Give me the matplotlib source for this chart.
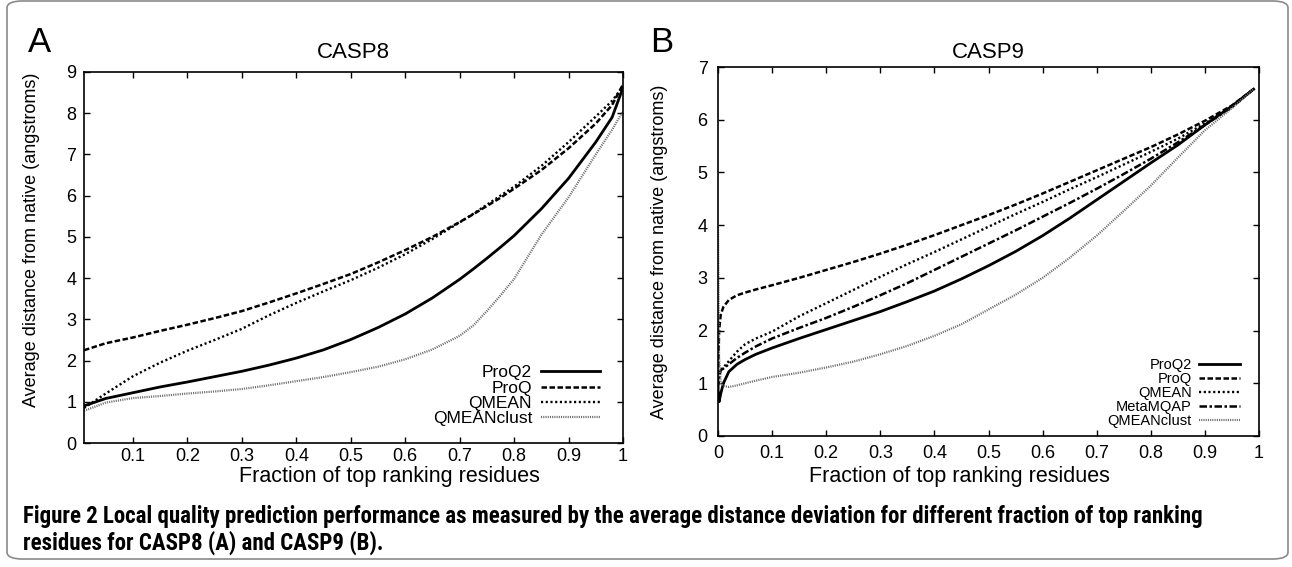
import matplotlib
matplotlib.use("Agg")
import matplotlib.pyplot as plt
from matplotlib import font_manager as fm
from matplotlib.patches import FancyBboxPatch

# ---------------- data ----------------
x_casp8 = [0.01, 0.05, 0.1, 0.15, 0.2, 0.25, 0.3, 0.35, 0.4, 0.45, 0.5, 0.55,
           0.6, 0.65, 0.7, 0.725, 0.75, 0.775, 0.8, 0.85, 0.9, 0.95, 0.98, 1.0]
proq2_8 = [0.9, 1.08, 1.22, 1.36, 1.48, 1.61, 1.74, 1.89, 2.06, 2.26, 2.51, 2.8,
           3.13, 3.52, 3.97, 4.22, 4.48, 4.75, 5.03, 5.68, 6.42, 7.3, 7.9, 8.62]
proq_8 = [2.25, 2.42, 2.56, 2.72, 2.87, 3.03, 3.2, 3.41, 3.63, 3.86, 4.1, 4.38,
          4.68, 5.0, 5.36, 5.55, 5.75, 5.95, 6.17, 6.62, 7.15, 7.75, 8.2, 8.7]
qmean_8 = [0.85, 1.2, 1.62, 1.95, 2.24, 2.5, 2.77, 3.1, 3.4, 3.68, 3.95, 4.25,
           4.58, 4.95, 5.35, 5.56, 5.78, 6.0, 6.22, 6.72, 7.3, 7.92, 8.3, 8.65]
qmeanclust_8 = [0.78, 0.98, 1.09, 1.14, 1.2, 1.25, 1.31, 1.4, 1.5, 1.6, 1.72, 1.85,
                2.03, 2.27, 2.6, 2.85, 3.2, 3.58, 3.98, 5.05, 5.96, 7.0, 7.6, 8.05]

x_casp9 = [0.0, 0.002, 0.005, 0.01, 0.02, 0.035, 0.05, 0.07, 0.1, 0.15, 0.2, 0.25,
           0.3, 0.35, 0.4, 0.45, 0.5, 0.55, 0.6, 0.65, 0.7, 0.75, 0.8, 0.85,
           0.9, 0.95, 0.99]
proq2_9 = [0.9, 0.65, 0.8, 1.0, 1.22, 1.36, 1.45, 1.55, 1.67, 1.85, 2.02, 2.19,
           2.36, 2.55, 2.75, 2.98, 3.23, 3.5, 3.8, 4.13, 4.48, 4.83, 5.18, 5.52,
           5.9, 6.26, 6.58]
proq_9 = [1.0, 2.0, 2.3, 2.45, 2.58, 2.67, 2.72, 2.78, 2.86, 3.0, 3.15, 3.3,
          3.46, 3.63, 3.81, 4.0, 4.19, 4.39, 4.6, 4.82, 5.04, 5.26, 5.48, 5.72,
          5.98, 6.27, 6.58]
qmean_9 = [1.0, 1.15, 1.25, 1.3, 1.42, 1.6, 1.74, 1.85, 1.98, 2.27, 2.52, 2.77,
           3.02, 3.26, 3.49, 3.73, 3.97, 4.21, 4.44, 4.68, 4.91, 5.15, 5.39, 5.64,
           5.93, 6.24, 6.58]
metamqap_9 = [0.9, 1.1, 1.25, 1.28, 1.36, 1.48, 1.58, 1.7, 1.85, 2.05, 2.24, 2.45,
              2.67, 2.9, 3.15, 3.4, 3.65, 3.9, 4.16, 4.42, 4.69, 4.97, 5.26, 5.57,
              5.9, 6.24, 6.58]
qmeanclust_9 = [4.0, 1.5, 1.0, 0.95, 0.93, 0.96, 1.0, 1.05, 1.12, 1.2, 1.3, 1.41,
                1.55, 1.71, 1.9, 2.12, 2.4, 2.68, 3.0, 3.38, 3.8, 4.27, 4.75, 5.28,
                5.8, 6.22, 6.58]

xticks_8 = [0.1, 0.2, 0.3, 0.4, 0.5, 0.6, 0.7, 0.8, 0.9, 1.0]
xticklabels_8 = ["0.1", "0.2", "0.3", "0.4", "0.5", "0.6", "0.7", "0.8", "0.9", "1"]
xticks_9 = [0.0, 0.1, 0.2, 0.3, 0.4, 0.5, 0.6, 0.7, 0.8, 0.9, 1.0]
xticklabels_9 = ["0", "0.1", "0.2", "0.3", "0.4", "0.5", "0.6", "0.7", "0.8", "0.9", "1"]
yticks_8 = list(range(0, 10))
yticks_9 = list(range(0, 8))

caption_line1 = ("Figure 2 Local quality prediction performance as measured by the average "
                 "distance deviation for different fraction of top ranking")
caption_line2 = "residues for CASP8 (A) and CASP9 (B)."

# ---------------- style ----------------
plt.rcParams['font.family'] = ['Liberation Sans', 'DejaVu Sans']
W, H = 1292, 567
fig = plt.figure(figsize=(W / 100, H / 100), dpi=100)

styles = {
    'ProQ2': dict(color='black', lw=2.0, ls='-'),
    'ProQ': dict(color='black', lw=1.8, ls=(0, (2.2, 1.0))),
    'QMEAN': dict(color='black', lw=1.7, ls=(0, (0.9, 1.1))),
    'MetaMQAP': dict(color='black', lw=1.8, ls=(0, (3.0, 1.0, 1.0, 1.0))),
    'QMEANclust': dict(color='#6e6e6e', lw=1.6, ls=(0, (0.5, 0.5))),
}

def px_axes(l, t, r, b):
    return fig.add_axes([l / W, 1 - b / H, (r - l) / W, (b - t) / H])

def style_axes(ax, xpad, ypad):
    for s in ax.spines.values():
        s.set_linewidth(1.2)
    ax.tick_params(direction='in', length=4, width=1.0, top=True, right=True,
                   labelsize=13, colors='black')
    ax.tick_params(axis='x', pad=xpad)
    ax.tick_params(axis='y', pad=ypad)

# left panel
ax1 = px_axes(84, 72, 623, 443)
for name, ys in [('ProQ2', proq2_8), ('ProQ', proq_8), ('QMEAN', qmean_8),
                 ('QMEANclust', qmeanclust_8)]:
    ax1.plot(x_casp8, ys, label=name, **styles[name])
ax1.set_xlim(0.01, 1.0)
ax1.set_ylim(0, 9)
ax1.set_xticks(xticks_8)
ax1.set_xticklabels(xticklabels_8)
ax1.set_yticks(yticks_8)
style_axes(ax1, 3.5, 5.5)
ax1.set_xlabel("Fraction of top ranking residues", fontsize=15.5)
ax1.xaxis.set_label_coords(0.566, -0.062)
ax1.set_ylabel("Average distance from native (angstroms)", fontsize=13)
ax1.yaxis.set_label_coords(-0.082, 0.547)
ax1.legend(loc='lower right', bbox_to_anchor=(0.957, 0.046), frameon=False,
           markerfirst=False, fontsize=12.5, handlelength=3.4,
           handletextpad=0.5, labelspacing=0.0, borderpad=0, borderaxespad=0)

# right panel
ax2 = px_axes(718, 67, 1259, 436)
for name, ys in [('ProQ2', proq2_9), ('ProQ', proq_9), ('QMEAN', qmean_9),
                 ('MetaMQAP', metamqap_9), ('QMEANclust', qmeanclust_9)]:
    ax2.plot(x_casp9, ys, label=name, **styles[name])
ax2.set_xlim(0, 1.0)
ax2.set_ylim(0, 7)
ax2.set_xticks(xticks_9)
ax2.set_xticklabels(xticklabels_9)
ax2.set_yticks(yticks_9)
style_axes(ax2, 6.5, 7.5)
ax2.set_xlabel("Fraction of top ranking residues", fontsize=15.5)
ax2.xaxis.set_label_coords(0.447, -0.082)
ax2.set_ylabel("Average distance from native (angstroms)", fontsize=13)
ax2.yaxis.set_label_coords(-0.092, 0.5)
ax2.legend(loc='lower right', bbox_to_anchor=(0.965, 0.022), frameon=False,
           markerfirst=False, fontsize=10.5, handlelength=2.8,
           handletextpad=0.5, labelspacing=0.0, borderpad=0, borderaxespad=0)

# titles and panel letters
fig.text(353 / W, 1 - 53 / H, "CASP8", ha='center', va='center', fontsize=16)
fig.text(988 / W, 1 - 53 / H, "CASP9", ha='center', va='center', fontsize=16)
fig.text(39 / W, 1 - 42 / H, "A", ha='center', va='center', fontsize=25)
fig.text(662 / W, 1 - 42 / H, "B", ha='center', va='center', fontsize=25)

# border
border = FancyBboxPatch((7 / W, 8 / H), (1288 - 7) / W, (566 - 8) / H,
                        boxstyle="round,pad=0,rounding_size=0.012",
                        transform=fig.transFigure, fill=False,
                        edgecolor='#8a8a8a', linewidth=1.2, clip_on=False)
fig.patches.append(border)

# caption (condensed bold)
names = {f.name for f in fm.fontManager.ttflist}
cap_family = next((n for n in ['Liberation Sans Narrow', 'Roboto Condensed',
                               'Open Sans Condensed', 'Noto Sans', 'Open Sans']
                   if n in names), 'DejaVu Sans')
t1 = fig.text(23 / W, 1 - 523 / H, caption_line1, ha='left', va='baseline',
              fontsize=12, fontweight='bold', family=[cap_family, 'DejaVu Sans'])
t2 = fig.text(23 / W, 1 - 550 / H, caption_line2, ha='left', va='baseline',
              fontsize=12, fontweight='bold', family=[cap_family, 'DejaVu Sans'])
fig.canvas.draw()
w1 = t1.get_window_extent().width
scale = 1185 / w1
t1.set_fontsize(12 * scale)
t2.set_fontsize(12 * scale)

fig.savefig("out.png", dpi=100)
